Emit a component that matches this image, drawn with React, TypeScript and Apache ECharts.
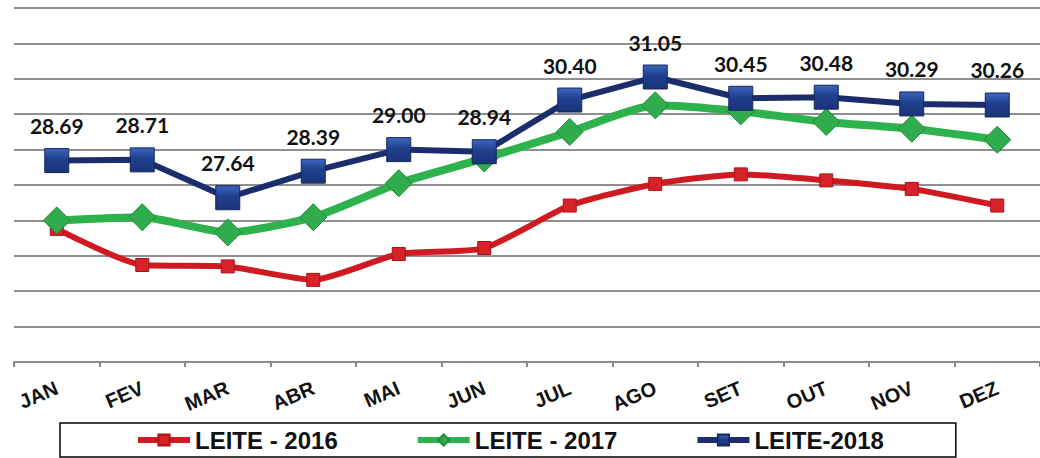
import React, { useEffect, useRef } from "react";
import * as echarts from "echarts";

const months = ["JAN", "FEV", "MAR", "ABR", "MAI", "JUN", "JUL", "AGO", "SET", "OUT", "NOV", "DEZ"];
const leite2016 = [26.76, 25.74, 25.7, 25.32, 26.05, 26.22, 27.42, 28.03, 28.3, 28.13, 27.89, 27.42];
const leite2017 = [27.0, 27.09, 26.66, 27.09, 28.05, 28.75, 29.5, 30.25, 30.08, 29.78, 29.59, 29.28];
const leite2018 = [28.69, 28.71, 27.64, 28.39, 29.0, 28.94, 30.4, 31.05, 30.45, 30.48, 30.29, 30.26];
const seriesNames = ["LEITE - 2016", "LEITE - 2017", "LEITE-2018"];
const yMin = 23;
const yMax = 33;
const yStep = 1;

export default function App() {
  const ref = useRef<HTMLDivElement>(null);
  useEffect(() => {
    if (!ref.current) return;
    const chart = echarts.init(ref.current, null, { renderer: "svg" });
    const option = {
      animation: false,
      backgroundColor: "#ffffff",
      grid: { left: 14, right: 0, top: 8, bottom: 96, containLabel: false },
      legend: {
        left: 60,
        top: 423,
        padding: [5, 72, 5, 75],
        borderColor: "#000",
        borderWidth: 1.5,
        itemGap: 77,
        itemWidth: 52,
        itemHeight: 14,
        lineStyle: { width: 6 },
        textStyle: {
          fontFamily: "Liberation Sans",
          fontWeight: "bold",
          fontSize: 24,
          color: "#111",
        },
        data: seriesNames,
      },
      xAxis: {
        type: "category",
        data: months,
        boundaryGap: true,
        axisLine: { lineStyle: { color: "#8a8a8a", width: 2 } },
        axisTick: { show: true, length: 5, lineStyle: { color: "#8a8a8a", width: 2 } },
        axisLabel: {
          rotate: 23,
          margin: 25,
          fontFamily: "Liberation Sans",
          fontWeight: "bold",
          fontSize: 20,
          color: "#111",
          interval: 0,
        },
      },
      yAxis: {
        type: "value",
        min: yMin,
        max: yMax,
        interval: yStep,
        axisLabel: { show: false },
        axisLine: { show: false },
        axisTick: { show: false },
        splitLine: { lineStyle: { color: "#8f8f8f", width: 2 } },
      },
      series: [
        {
          name: seriesNames[0],
          type: "line",
          data: leite2016,
          smooth: 0.2,
          symbol: "rect",
          symbolSize: 13,
          lineStyle: { color: "#cf1a22", width: 6 },
          itemStyle: { color: "#d8222a", borderColor: "#a8141a", borderWidth: 1 },
          z: 2,
        },
        {
          name: seriesNames[1],
          type: "line",
          data: leite2017,
          smooth: 0.2,
          symbol: "diamond",
          symbolSize: 27,
          lineStyle: { color: "#2eb24e", width: 8 },
          itemStyle: { color: "#30ac4c", borderColor: "#1f8a3a", borderWidth: 1 },
          z: 3,
        },
        {
          name: seriesNames[2],
          type: "line",
          data: leite2018,
          symbol: "rect",
          symbolSize: 24,
          lineStyle: { color: "#1b2d6c", width: 6 },
          itemStyle: {
            color: new echarts.graphic.LinearGradient(0, 0, 0, 1, [
              { offset: 0, color: "#3d66bd" },
              { offset: 0.45, color: "#1f3f8d" },
              { offset: 1, color: "#1a3478" },
            ]),
            borderColor: "#14285c",
            borderWidth: 1,
          },
          label: {
            show: true,
            position: "top",
            distance: 12,
            formatter: (p: any) => Number(p.value).toFixed(2),
            fontFamily: "Lato",
            fontWeight: "bold",
            fontSize: 21,
            color: "#111",
          },
          z: 4,
        },
      ],
    };
    chart.setOption(option as any);
    return () => chart.dispose();
  }, []);
  return (
    <div
      ref={ref}
      style={{ position: "fixed", left: 0, top: 0, width: 1040, height: 458, background: "#fff" }}
    />
  );
}
